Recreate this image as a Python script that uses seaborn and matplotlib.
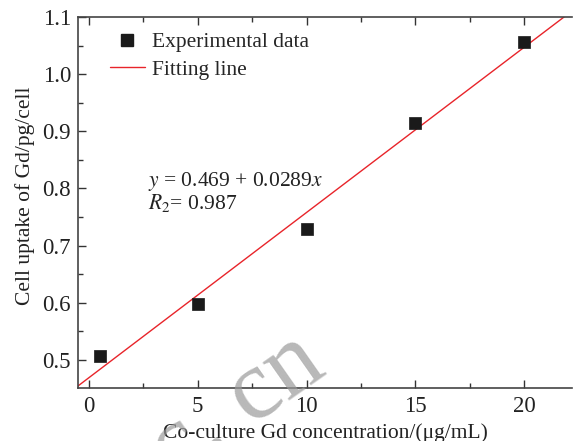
import matplotlib
matplotlib.use("Agg")
import matplotlib.pyplot as plt
import seaborn as sns
import numpy as np
import pandas as pd
from matplotlib.ticker import MultipleLocator
from matplotlib.lines import Line2D

conc = [0.5, 5, 10, 15, 20]
uptake = [0.507, 0.598, 0.729, 0.914, 1.057]
intercept = 0.469
slope = 0.0289

sns.set_theme(style="ticks")
plt.rcParams['font.family'] = ['Liberation Serif', 'DejaVu Serif']
plt.rcParams['mathtext.fontset'] = 'stix'

fig = plt.figure(figsize=(5.73, 4.41), dpi=100)
ax = fig.add_axes([78/573, 1-388/441, (572-78)/573, (388-17)/441])

df = pd.DataFrame({"x": conc, "y": uptake})
sns.scatterplot(data=df, x="x", y="y", marker="s", s=85, color="#1a1a1a",
                edgecolor="#1a1a1a", linewidth=0.5, ax=ax, zorder=3)
xl = np.array([-0.5, 22.2])
sns.lineplot(x=xl, y=intercept + slope * xl, color="#e8242a", linewidth=1.0, ax=ax, zorder=2)

ax.set_xlim(-0.5, 22.2)
ax.set_ylim(0.451, 1.1)
ax.xaxis.set_major_locator(MultipleLocator(5))
ax.xaxis.set_minor_locator(MultipleLocator(2.5))
ax.yaxis.set_major_locator(MultipleLocator(0.1))
ax.yaxis.set_minor_locator(MultipleLocator(0.05))
ax.tick_params(which='both', direction='in', top=True, right=False, colors='#333333',
               labelsize=16.5, labelcolor='#222222')
ax.tick_params(which='major', length=6, width=1)
ax.tick_params(which='minor', length=3.5, width=1)
ax.tick_params(axis='x', pad=6)
ax.tick_params(axis='y', pad=5)
ax.set_yticks([0.5, 0.6, 0.7, 0.8, 0.9, 1.0, 1.1])
ax.set_yticklabels(["0.5", "0.6", "0.7", "0.8", "0.9", "1.0", "1.1"])
for s in ['left', 'bottom', 'top']:
    ax.spines[s].set_color('#444444')
    ax.spines[s].set_linewidth(1.2)
ax.spines['right'].set_visible(False)

ax.set_xlabel("Co-culture Gd concentration/(μg/mL)", fontsize=15.5, color='#222222', labelpad=4)
ax.set_ylabel("Cell uptake of Gd/pg/cell", fontsize=15.5, color='#222222')
ax.yaxis.set_label_coords(-0.088, 0.519)

handles = [Line2D([], [], marker='s', color='#1a1a1a', linestyle='None', markersize=8.6),
           Line2D([], [], color='#e8242a', linewidth=1.0)]
ax.legend(handles, ["Experimental data", "Fitting line"], loc='upper left',
          bbox_to_anchor=(0.026, 1.011), frameon=False, fontsize=15.5, handlelength=1.6,
          labelspacing=0.35, handletextpad=0.35)

fig.text(148/573, 1-209/441, "$y$ = 0.469 + 0.0289$x$\n$R_2$= 0.987", fontsize=15.5,
         color='#222222', linespacing=0.95, va='baseline', ha='left')

# watermark
fig.text(328/573, 1-372/441, "ac. cn", fontsize=72, color='#9a9a9a', alpha=0.7,
         rotation=35, rotation_mode='anchor', ha='right', va='baseline', zorder=10)

fig.savefig("out.png", dpi=100)
